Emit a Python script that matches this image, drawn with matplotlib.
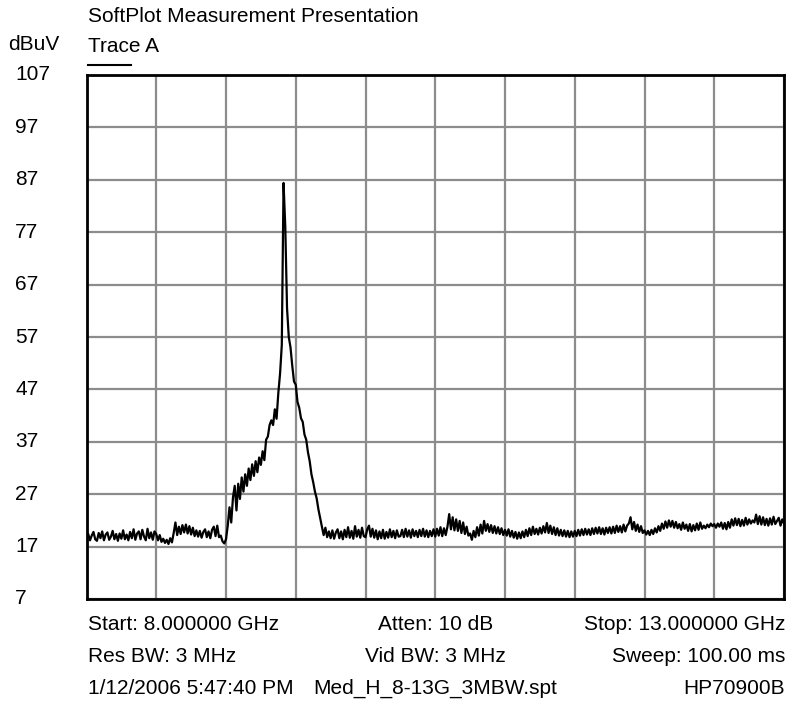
import numpy as np
import matplotlib
matplotlib.use("Agg")
import matplotlib.pyplot as plt
from matplotlib.lines import Line2D

# sweep: 401 points from 8 to 13 GHz
f_start, f_stop = 8.0, 13.0
freq = np.linspace(f_start, f_stop, 401)

# trace A levels, dBuV (20 points per quarter GHz)
level = np.array([
    18.3, 19.4, 18.2, 19.1, 19.8, 18.4, 18.1, 19.6, 18.6, 19.9, 18.2, 19.3, 19.7, 18.3, 18.9, 20.0, 18.4, 19.4, 18.1, 19.5,
    18.5, 20.1, 18.4, 19.3, 18.2, 19.8, 18.6, 20.3, 18.3, 19.5, 19.9, 18.4, 20.2, 18.9, 18.2, 20.4, 18.6, 19.7, 18.3, 19.9,
    19.4, 18.2, 19.2, 17.9, 18.5, 17.7, 18.3, 17.5, 18.6, 17.8, 19.6, 21.6, 19.2, 20.8, 19.4, 21.1, 19.7, 21.2, 19.5, 20.9,
    19.3, 20.6, 19.0, 20.1, 18.9, 20.0, 18.7, 19.8, 20.3, 18.8, 19.9, 18.6, 20.2, 20.8, 19.0, 21.0, 18.8, 19.1, 18.0, 17.6,
    18.4, 21.0, 24.5, 21.6, 26.4, 28.6, 23.9, 29.0, 26.1, 30.2, 27.5, 30.8, 28.6, 31.9, 29.7, 32.7, 30.5, 33.3, 31.2, 34.0,
    32.6, 35.2, 33.5, 37.4, 38.0, 40.2, 41.1, 40.2, 43.2, 41.4, 46.3, 50.0, 55.5, 86.4, 78.0, 62.5, 57.0, 55.0, 51.5, 48.5,
    47.9, 44.6, 43.5, 41.5, 40.8, 38.4, 37.4, 35.0, 33.3, 30.8, 29.3, 27.5, 26.2, 24.1, 22.4, 20.8, 19.2, 20.6, 18.8, 19.9,
    18.6, 20.1, 18.5, 19.7, 20.3, 18.6, 19.9, 18.4, 20.2, 18.8, 20.7, 18.7, 20.0, 18.5, 20.9, 18.9, 20.2, 18.7, 20.6, 19.0,
    18.8, 20.3, 21.0, 18.9, 20.4, 18.7, 20.1, 18.4, 19.9, 18.6, 20.2, 18.5, 19.8, 18.7, 20.3, 18.8, 20.0, 18.6, 20.1, 18.9,
    19.0, 20.2, 18.8, 20.4, 18.9, 20.1, 18.7, 20.3, 19.0, 20.0, 18.8, 20.2, 19.0, 20.4, 18.9, 20.1, 18.8, 20.0, 19.0, 20.3,
    18.9, 20.4, 19.1, 20.7, 19.0, 20.5, 19.2, 20.8, 23.2, 20.3, 22.6, 20.1, 22.2, 20.0, 21.9, 19.6, 21.6, 19.4, 20.8, 19.1,
    19.5, 18.3, 20.0, 18.8, 20.7, 19.1, 21.2, 19.5, 21.9, 20.0, 21.3, 19.8, 21.1, 19.6, 20.9, 19.5, 20.7, 19.4, 20.5, 19.2,
    20.2, 19.1, 20.3, 18.9, 20.0, 18.7, 19.8, 18.5, 19.7, 18.6, 19.9, 18.8, 20.2, 19.0, 20.5, 19.2, 20.8, 19.4, 20.4, 19.3,
    20.6, 19.5, 20.9, 19.7, 21.5, 19.6, 21.0, 19.4, 20.7, 19.2, 20.5, 19.1, 20.2, 19.0, 20.1, 18.9, 20.0, 18.8, 19.9, 18.9,
    20.0, 19.0, 20.2, 19.1, 20.3, 19.2, 20.4, 19.3, 20.3, 19.2, 20.5, 19.4, 20.6, 19.5, 20.7, 19.4, 20.5, 19.3, 20.6, 19.6,
    20.7, 19.5, 20.8, 19.6, 21.0, 19.8, 20.9, 19.7, 21.2, 19.9, 21.0, 21.4, 22.6, 20.3, 21.7, 20.0, 21.2, 19.8, 20.9, 19.6,
    20.1, 19.3, 20.0, 19.2, 20.2, 19.4, 20.5, 19.7, 20.9, 20.0, 21.4, 20.4, 21.8, 20.6, 22.0, 20.8, 21.9, 20.6, 21.7, 20.5,
    21.3, 20.2, 21.6, 20.4, 21.2, 20.0, 21.3, 19.9, 21.1, 20.1, 21.4, 20.2, 21.6, 20.4, 21.0, 20.5, 21.2, 20.7, 21.4, 20.9,
    21.3, 20.6, 21.4, 20.8, 21.6, 20.4, 21.5, 20.3, 21.7, 20.6, 22.2, 21.0, 22.4, 21.1, 22.3, 20.9, 22.1, 21.0, 22.5, 21.2,
    22.2, 21.4, 22.0, 21.6, 23.1, 21.3, 22.8, 21.2, 22.6, 21.1, 22.3, 21.0, 22.4, 21.2, 22.7, 21.3, 21.9, 22.5, 21.0, 22.2,
    21.4,
])

y_ticks = [7, 17, 27, 37, 47, 57, 67, 77, 87, 97, 107]

title = "SoftPlot Measurement Presentation"
unit = "dBuV"
trace_name = "Trace A"
footer = [
    ["Start: 8.000000 GHz", "Atten: 10 dB", "Stop: 13.000000 GHz"],
    ["Res BW: 3 MHz", "Vid BW: 3 MHz", "Sweep: 100.00 ms"],
    ["1/12/2006 5:47:40 PM", "Med_H_8-13G_3MBW.spt", "HP70900B"],
]

plt.rcParams['font.family'] = ['Liberation Sans', 'DejaVu Sans']
W, H = 787, 704
fig = plt.figure(figsize=(W / 100, H / 100), dpi=100)

# axes box in pixels
left, right, top, bottom = 86.5, 784, 75, 599
ax = fig.add_axes([left / W, (H - bottom) / H, (right - left) / W, (bottom - top) / H])

ax.plot(freq, level, color='black', linewidth=1.6)
ax.set_xlim(f_start, f_stop)
ax.set_ylim(y_ticks[0], y_ticks[-1])
ax.set_xticks(np.linspace(f_start, f_stop, 11))
ax.set_yticks(y_ticks)
ax.grid(True, color='#8c8c8c', linewidth=1.6)
ax.tick_params(length=0, labelbottom=False, labelleft=False)
for s in ax.spines.values():
    s.set_linewidth(2.0)
    s.set_color('black')

def px(x, y):
    return x / W, 1 - y / H

fs = 15
# y labels, left aligned beside the box
for v in y_ticks:
    yy = top + (y_ticks[-1] - v) / (y_ticks[-1] - y_ticks[0]) * (bottom - top)
    fig.text(*px(15, yy), str(v), fontsize=fs, ha='left', va='center')

fig.text(*px(88, 17), title, fontsize=fs, ha='left', va='center')
fig.text(*px(8, 45), unit, fontsize=fs, ha='left', va='center')
fig.text(*px(88, 47), trace_name, fontsize=fs, ha='left', va='center')
fig.add_artist(Line2D([88 / W, 131 / W], [1 - 65 / H, 1 - 65 / H],
                     color='black', linewidth=1.5))

row_y = [625, 656, 688]
mid = (left + right) / 2
for (a, b, c), yy in zip(footer, row_y):
    fig.text(*px(88, yy), a, fontsize=fs, ha='left', va='center')
    fig.text(*px(mid, yy), b, fontsize=fs, ha='center', va='center')
    fig.text(*px(785, yy), c, fontsize=fs, ha='right', va='center')

fig.savefig("out.png", dpi=100)
